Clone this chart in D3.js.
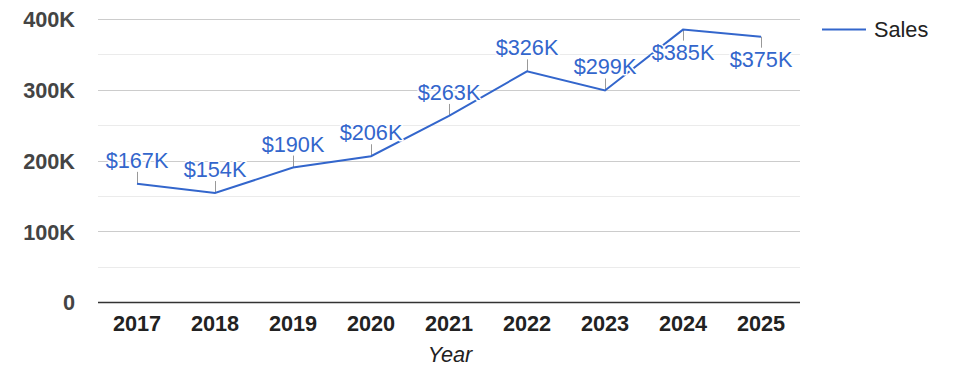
<!DOCTYPE html>
<html><head><meta charset="utf-8">
<script src="https://cdn.jsdelivr.net/npm/d3@7"></script>
<style>html,body{margin:0;padding:0;background:#fff;}svg{display:block;font-family:Arial,"Liberation Sans",sans-serif;}</style>
</head><body>
<svg id="chart" width="975" height="378"></svg>
<script>
const years = ["2017","2018","2019","2020","2021","2022","2023","2024","2025"];
const sales = [167000,154000,190000,206000,263000,326000,299000,385000,375000];
const majorTicks = [0,100000,200000,300000,400000];
const minorTicks = [50000,150000,250000,350000];
const seriesName = "Sales";
const xTitle = "Year";

const svg = d3.select("#chart");
const pLeft = 98, pRight = 800, pTop = 19, pBottom = 302;
const x = d3.scaleBand().domain(years).range([pLeft, pRight]);
const y = d3.scaleLinear().domain([0, 400000]).range([pBottom, pTop]);
const blue = "#3366CC";
const fs = 21.7;
const fmtTick = v => v === 0 ? "0" : (v/1000) + "K";
const fmtLab = v => "$" + Math.round(v/1000) + "K";

// gridlines
svg.append("g").selectAll("line").data(minorTicks).join("line")
  .attr("x1", pLeft).attr("x2", pRight)
  .attr("y1", d => Math.round(y(d))+0.5).attr("y2", d => Math.round(y(d))+0.5)
  .attr("stroke", "#ebebeb");
svg.append("g").selectAll("line").data(majorTicks.filter(d=>d>0)).join("line")
  .attr("x1", pLeft).attr("x2", pRight)
  .attr("y1", d => Math.round(y(d))+0.5).attr("y2", d => Math.round(y(d))+0.5)
  .attr("stroke", "#cccccc");

// y axis labels
const yAxis = d3.axisLeft(y).tickValues(majorTicks).tickFormat(fmtTick).tickSize(0).tickPadding(0);
const gy = svg.append("g").attr("transform", `translate(${pLeft-23},0)`).call(yAxis);
gy.select(".domain").remove();
gy.selectAll("text").attr("font-size", fs).attr("font-weight", "bold").attr("fill", "#444")
  .attr("font-family", "Arial, 'Liberation Sans', sans-serif").attr("dy", "0.36em");

// x axis labels
const xAxis = d3.axisBottom(x).tickSize(0).tickPadding(0);
const gx = svg.append("g").attr("transform", `translate(0,${pBottom})`).call(xAxis);
gx.select(".domain").remove();
gx.selectAll("text").attr("font-size", fs).attr("font-weight", "bold").attr("fill", "#222")
  .attr("font-family", "Arial, 'Liberation Sans', sans-serif").attr("y", 29).attr("dy", 0);

// baseline
svg.append("line").attr("x1", pLeft).attr("x2", pRight)
  .attr("y1", y(0)+0.5).attr("y2", y(0)+0.5).attr("stroke", "#333").attr("stroke-width", 1.3);

// x title
svg.append("text").attr("x", (pLeft+pRight)/2 + 1).attr("y", 362).attr("text-anchor", "middle")
  .attr("font-size", fs).attr("font-style", "italic").attr("fill", "#222").text(xTitle);

const cx = d => x(d) + x.bandwidth()/2;
const data = years.map((yr, i) => ({yr, v: sales[i]}));
const below = d => d.v > 350000;

// stems
svg.append("g").selectAll("line").data(data).join("line")
  .attr("x1", d => cx(d.yr)+0.5).attr("x2", d => cx(d.yr)+0.5)
  .attr("y1", d => y(d.v)).attr("y2", d => below(d) ? y(d.v)+11 : y(d.v)-12)
  .attr("stroke", "#999").attr("stroke-width", 1);

// line
svg.append("path").datum(data)
  .attr("d", d3.line().x(d => cx(d.yr)).y(d => y(d.v)))
  .attr("fill", "none").attr("stroke", blue).attr("stroke-width", 2);

// annotations
svg.append("g").selectAll("text").data(data).join("text")
  .attr("x", d => cx(d.yr)).attr("y", d => below(d) ? y(d.v)+30 : y(d.v)-16)
  .attr("text-anchor", "middle").attr("font-size", fs).attr("fill", blue)
  .attr("stroke", "#fff").attr("stroke-width", 3).attr("paint-order", "stroke")
  .attr("stroke-linejoin", "round")
  .text(d => fmtLab(d.v));

// legend
svg.append("line").attr("x1", 822).attr("x2", 866).attr("y1", 29.5).attr("y2", 29.5)
  .attr("stroke", blue).attr("stroke-width", 2);
svg.append("text").attr("x", 874).attr("y", 29).attr("dy", "0.36em").attr("font-size", fs)
  .attr("fill", "#222").text(seriesName);
</script>
</body></html>
